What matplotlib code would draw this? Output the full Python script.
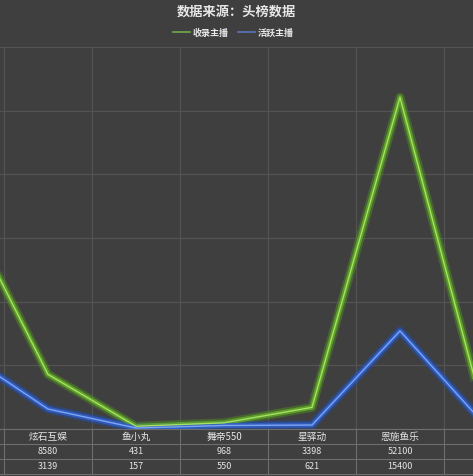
import matplotlib
matplotlib.use('Agg')
import matplotlib.pyplot as plt
import matplotlib.transforms as mtransforms

plt.rcParams['font.family'] = ['Noto Sans CJK SC', 'DejaVu Sans']

# categories (first and last are cut off in the picture, names unknown)
cats = ['', '炫石互娱', '鱼小丸', '舞帝550', '星驿动', '恩施鱼乐', '']
shoulu = [36000, 8580, 431, 968, 3398, 52100, 0]    # 收录主播
huoyue = [12400, 3139, 157, 550, 621, 15400, 100]     # 活跃主播
shoulu_txt = ['', '8580', '431', '968', '3398', '52100', '']
huoyue_txt = ['', '3139', '157', '550', '621', '15400', '']
yticks = [0, 10000, 20000, 30000, 40000, 50000, 60000]

W, H = 473, 477
bg = '#3f3f3f'
fig = plt.figure(figsize=(W / 100, H / 100), dpi=100, facecolor=bg)

# plot area is wider than the picture (cropped on both sides)
left_px, right_px = -84, 532
top_px, bot_px = 48, 430
ax = fig.add_axes([left_px / W, 1 - bot_px / H, (right_px - left_px) / W, (bot_px - top_px) / H])
ax.set_facecolor(bg)
n = len(cats)
x = list(range(n))
ax.set_xlim(-0.5, n - 0.5)
ax.set_ylim(0, 60000)
ax.set_xticks([i + 0.5 for i in range(-1, n)])
ax.set_yticks(yticks)
ax.tick_params(length=0, labelbottom=False, labelleft=False)
ax.grid(True, color='#535353', lw=0.9)
for s in ax.spines.values():
    s.set_visible(False)

# glowing lines
def glow(vals, c_glow, c_mid, c_core):
    ax.plot(x, vals, color=c_glow, lw=6.5, alpha=0.45, solid_joinstyle='round', zorder=3)
    ax.plot(x, vals, color=c_mid, lw=3.6, alpha=0.85, solid_joinstyle='round', zorder=4)
    ax.plot(x, vals, color=c_core, lw=1.0, solid_joinstyle='round', zorder=5)

glow(shoulu, '#4f8f1f', '#62a82a', '#a8e066')
glow(huoyue, '#1f4fb8', '#2f60cc', '#7fa4f0')

# title and legend
fig.text(0.5, 1 - 12 / H, '数据来源：头榜数据', ha='center', va='center',
         color='#e8e8e8', fontsize=9.5, fontweight='bold')
ly = 1 - 33 / H
fig.add_artist(plt.Line2D([173 / W, 190 / W], [ly, ly], color='#72a84a', lw=1.2))
fig.text(193 / W, ly, '收录主播', ha='left', va='center', color='#e8e8e8', fontsize=6.5, fontweight='bold')
fig.add_artist(plt.Line2D([238 / W, 255 / W], [ly, ly], color='#5577b8', lw=1.2))
fig.text(258 / W, ly, '活跃主播', ha='left', va='center', color='#e8e8e8', fontsize=6.5, fontweight='bold')

# data table under the chart
trans = mtransforms.blended_transform_factory(ax.transData, fig.transFigure)
rows_px = [429.5, 444.5, 459.5, 475]
for yp in rows_px:
    ax.plot([-0.5, n - 0.5], [1 - yp / H] * 2, color='#6e6e6e', lw=0.8,
            transform=trans, clip_on=False)
for i in range(-1, n):
    ax.plot([i + 0.5, i + 0.5], [1 - rows_px[0] / H, 1 - rows_px[-1] / H], color='#6e6e6e',
            lw=0.8, transform=trans, clip_on=False)
for i in range(n):
    ax.text(i, 1 - 437 / H, cats[i], ha='center', va='center', color='#e6e6e6',
            fontsize=7, transform=trans, clip_on=False)
    ax.text(i, 1 - 452 / H, shoulu_txt[i], ha='center', va='center', color='#e6e6e6',
            fontsize=6.5, transform=trans, clip_on=False)
    ax.text(i, 1 - 467 / H, huoyue_txt[i], ha='center', va='center', color='#e6e6e6',
            fontsize=6.5, transform=trans, clip_on=False)

fig.savefig('out.png', dpi=100, facecolor=bg)
